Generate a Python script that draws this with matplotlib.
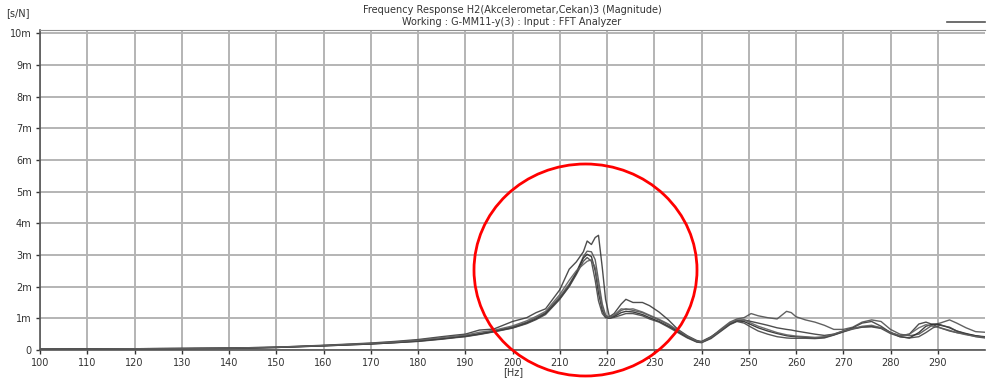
import matplotlib
matplotlib.use("Agg")
import matplotlib.pyplot as plt
from matplotlib.patches import Ellipse

# frequency points [Hz]
freq = [100, 110, 120, 130, 140, 150, 160, 170, 175, 180, 185, 188, 190, 193, 196,
        200, 203, 205, 207, 210, 212, 213.5, 215, 215.8, 216.7, 217.5, 218.2, 219,
        219.7, 220.5, 221.5, 223, 224, 225.5, 227.5, 229, 231, 233, 235, 237, 239,
        240, 242, 244, 246, 247.5, 249, 250.5, 252, 254, 256, 258, 259, 260, 262,
        264, 266, 268, 270, 272, 274, 276, 278, 280, 282, 284, 286, 287.5, 289,
        290.5, 292.5, 294, 296, 298, 300]

# magnitudes [m s/N]
h_a = [0.03, 0.04, 0.04, 0.05, 0.06, 0.09, 0.15, 0.22, 0.27, 0.33, 0.42, 0.47, 0.5, 0.63, 0.66,
       0.9, 1.02, 1.18, 1.3, 1.9, 2.55, 2.78, 3.1, 3.44, 3.33, 3.55, 3.62, 2.6,
       1.6, 1.05, 1.15, 1.45, 1.6, 1.5, 1.5, 1.4, 1.2, 0.95, 0.65, 0.45, 0.3,
       0.27, 0.42, 0.62, 0.82, 0.92, 0.95, 0.9, 0.85, 0.78, 0.7, 0.65, 0.63, 0.6, 0.55,
       0.5, 0.46, 0.5, 0.6, 0.7, 0.85, 0.9, 0.75, 0.55, 0.45, 0.5, 0.82, 0.88, 0.8,
       0.7, 0.6, 0.55, 0.5, 0.45, 0.42]
h_b = [0.03, 0.03, 0.04, 0.05, 0.06, 0.08, 0.14, 0.2, 0.24, 0.29, 0.36, 0.41, 0.45, 0.52, 0.6,
       0.73, 0.88, 1.02, 1.18, 1.68, 2.08, 2.45, 2.95, 3.12, 3.1, 2.85, 2.2, 1.45,
       1.1, 1.02, 1.08, 1.25, 1.3, 1.25, 1.18, 1.08, 0.95, 0.8, 0.6, 0.42, 0.28,
       0.25, 0.4, 0.65, 0.88, 0.98, 1.02, 1.15, 1.08, 1.02, 0.98, 1.22, 1.18, 1.05, 0.95,
       0.88, 0.78, 0.65, 0.65, 0.72, 0.88, 0.95, 0.9, 0.65, 0.5, 0.45, 0.5, 0.65, 0.8,
       0.85, 0.95, 0.85, 0.7, 0.58, 0.56]
h_c = [0.02, 0.03, 0.04, 0.04, 0.05, 0.08, 0.13, 0.19, 0.23, 0.28, 0.35, 0.4, 0.43, 0.5, 0.58,
       0.7, 0.85, 0.98, 1.15, 1.62, 2.02, 2.42, 2.9, 3.02, 2.95, 2.5, 1.8, 1.25,
       1.05, 1.0, 1.05, 1.18, 1.22, 1.2, 1.12, 1.02, 0.9, 0.75, 0.58, 0.4, 0.26,
       0.24, 0.38, 0.6, 0.82, 0.92, 0.9, 0.8, 0.7, 0.6, 0.52, 0.45, 0.43, 0.42, 0.4,
       0.38, 0.4, 0.48, 0.58, 0.68, 0.73, 0.75, 0.7, 0.55, 0.42, 0.38, 0.55, 0.75, 0.82,
       0.8, 0.7, 0.6, 0.52, 0.45, 0.4]
h_d = [0.02, 0.03, 0.03, 0.04, 0.05, 0.08, 0.13, 0.19, 0.23, 0.27, 0.34, 0.39, 0.42, 0.49, 0.57,
       0.69, 0.83, 0.96, 1.12, 1.6, 2.0, 2.38, 2.8, 2.92, 2.8, 2.2, 1.55, 1.15,
       1.02, 1.0, 1.03, 1.1, 1.15, 1.15, 1.08, 0.98, 0.88, 0.72, 0.55, 0.38, 0.25,
       0.23, 0.36, 0.58, 0.8, 0.9, 0.85, 0.72, 0.6, 0.5, 0.42, 0.38, 0.37, 0.37, 0.37,
       0.36, 0.38, 0.47, 0.57, 0.66, 0.72, 0.73, 0.68, 0.52, 0.42, 0.38, 0.42, 0.55, 0.7,
       0.78, 0.72, 0.6, 0.5, 0.42, 0.38]
h_e = [0.03, 0.03, 0.04, 0.05, 0.06, 0.09, 0.14, 0.21, 0.25, 0.31, 0.39, 0.44, 0.47, 0.56, 0.62,
       0.76, 0.92, 1.06, 1.22, 1.75, 2.2, 2.5, 2.7, 2.8, 2.85, 2.6, 2.0, 1.35,
       1.08, 1.02, 1.1, 1.3, 1.28, 1.3, 1.2, 1.1, 0.97, 0.82, 0.62, 0.43, 0.28,
       0.25, 0.4, 0.62, 0.85, 0.95, 0.95, 0.85, 0.75, 0.65, 0.55, 0.48, 0.46, 0.44, 0.42,
       0.4, 0.42, 0.5, 0.6, 0.67, 0.75, 0.78, 0.7, 0.55, 0.45, 0.5, 0.7, 0.8, 0.75,
       0.7, 0.62, 0.55, 0.48, 0.43, 0.4]

curves = [h_a, h_b, h_c, h_d, h_e]
shades = ['#3a3a3a', '#505050', '#2a2a2a', '#444444', '#606060']

y_ticks = list(range(0, 11))
y_labels = ['0'] + [f'{v}m' for v in range(1, 11)]
x_ticks = list(range(100, 300, 10))

fig = plt.figure(figsize=(9.88, 3.8), dpi=100)
ax = fig.add_axes([40 / 988, 30 / 380, 945 / 988, 320 / 380])

for vals, c in zip(curves, shades):
    ax.plot(freq, vals, color=c, lw=1.0, alpha=0.9)

ax.set_xlim(100, 300)
ax.set_ylim(0, 10.1)
ax.set_xticks(x_ticks)
ax.set_yticks(y_ticks)
ax.set_yticklabels(y_labels)
ax.grid(True, color='#b4b4b4', lw=1.4)
ax.set_axisbelow(True)
ax.tick_params(labelsize=7, colors='#333333', length=3, width=1, pad=3)

for s in ['right']:
    ax.spines[s].set_visible(False)
ax.spines['top'].set_color('#909090')
ax.spines['left'].set_color('#555555')
ax.spines['bottom'].set_color('#555555')
ax.spines['left'].set_linewidth(1.2)
ax.spines['bottom'].set_linewidth(1.2)

# title block
fig.text(512 / 988, 1 - 10 / 380, 'Frequency Response H2(Akcelerometar,Cekan)3 (Magnitude)',
         ha='center', va='center', fontsize=7, color='#333333')
fig.text(512 / 988, 1 - 22 / 380, 'Working : G-MM11-y(3) : Input : FFT Analyzer',
         ha='center', va='center', fontsize=7, color='#333333')
fig.text(6 / 988, 1 - 13 / 380, '[s/N]', ha='left', va='center', fontsize=7, color='#333333')
fig.text(513 / 988, 1 - 372 / 380, '[Hz]', ha='center', va='center', fontsize=7, color='#333333')

# legend stub
fig.add_artist(plt.Line2D([947 / 988, 985 / 988], [1 - 22 / 380, 1 - 22 / 380],
                          color='#555555', lw=1.2, transform=fig.transFigure))

# highlight circle
circ = Ellipse((585.5 / 988, 1 - 270 / 380), 223 / 988, 212 / 380,
               transform=fig.transFigure, fill=False, ec='#ff0000', lw=2)
fig.add_artist(circ)

fig.savefig('out.png', dpi=100)
